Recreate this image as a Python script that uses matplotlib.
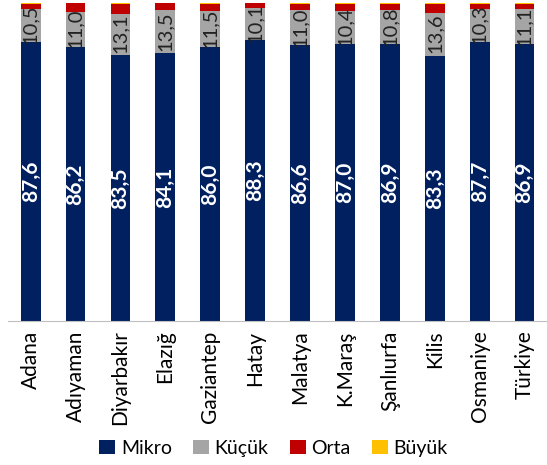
import numpy as np
import matplotlib
matplotlib.use("Agg")
import matplotlib.pyplot as plt

plt.rcParams['font.family'] = ['Lato', 'DejaVu Sans']

cities = ["Adana", "Adıyaman", "Diyarbakır", "Elazığ", "Gaziantep", "Hatay",
          "Malatya", "K.Maraş", "Şanlıurfa", "Kilis", "Osmaniye", "Türkiye"]
mikro = [87.6, 86.2, 83.5, 84.1, 86.0, 88.3, 86.6, 87.0, 86.9, 83.3, 87.7, 86.9]
kucuk = [10.5, 11.0, 13.1, 13.5, 11.5, 10.1, 11.0, 10.4, 10.8, 13.6, 10.3, 11.1]
orta = [1.6, 2.6, 3.1, 2.2, 2.1, 1.4, 2.1, 2.3, 2.0, 2.7, 1.7, 1.7]
buyuk = [0.3, 0.2, 0.3, 0.2, 0.4, 0.2, 0.3, 0.3, 0.3, 0.4, 0.3, 0.3]

colors = ["#002060", "#A5A5A5", "#C00000", "#FFC000"]
names = ["Mikro", "Küçük", "Orta", "Büyük"]

fig = plt.figure(figsize=(5.47, 4.65), dpi=100)
ax = fig.add_axes([0.015, 0.31, 0.985, 0.684])

x = np.arange(len(cities))
w = 0.44
bottom = np.zeros(len(cities))
for vals, c, n in zip([mikro, kucuk, orta, buyuk], colors, names):
    ax.bar(x, vals, w, bottom=bottom, color=c, label=n)
    bottom += np.array(vals)

for i in range(len(cities)):
    ax.text(x[i], mikro[i] / 2, f"{mikro[i]:.1f}".replace(".", ","), rotation=90,
            ha="center", va="center", color="white", fontweight="bold", fontsize=15)
    ax.text(x[i], mikro[i] + kucuk[i] / 2 + 0.3, f"{kucuk[i]:.1f}".replace(".", ","),
            rotation=90, ha="center", va="center", color="#222222", fontsize=14.5)

ax.set_xlim(-0.5, len(cities) - 0.5)
ax.set_ylim(0, 100)
ax.set_yticks([])
ax.set_xticks(x)
ax.set_xticklabels(cities, rotation=90, fontsize=15)
ax.tick_params(axis="x", length=0, pad=7)
for s in ["top", "right", "left"]:
    ax.spines[s].set_visible(False)
ax.spines["bottom"].set_color("#BFBFBF")

fig.legend(loc="lower center", bbox_to_anchor=(0.5, -0.02), ncol=4, frameon=False,
           fontsize=14, handlelength=0.8, handleheight=0.8, handletextpad=0.3,
           columnspacing=1.1)

fig.savefig("out.png", dpi=100)
